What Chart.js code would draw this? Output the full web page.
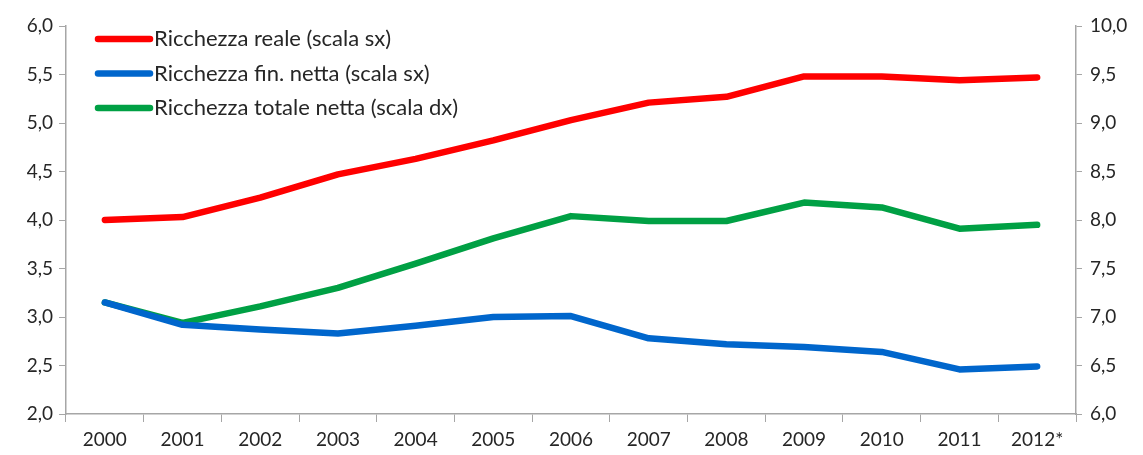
<!DOCTYPE html>
<html>
<head>
<meta charset="utf-8">
<script src="https://cdn.jsdelivr.net/npm/chart.js@4/dist/chart.umd.min.js"></script>
<style>
  html, body { margin: 0; padding: 0; background: #fff; }
  #wrap { width: 1143px; height: 455px; }
</style>
</head>
<body>
<div id="wrap"><canvas id="myChart"></canvas></div>
<script>
const years = ['2000', '2001', '2002', '2003', '2004', '2005', '2006', '2007', '2008', '2009', '2010', '2011', '2012*'];
const realeSx = [4.00, 4.03, 4.23, 4.47, 4.63, 4.82, 5.03, 5.21, 5.27, 5.48, 5.48, 5.44, 5.47];
const finNettaSx = [3.15, 2.92, 2.87, 2.83, 2.91, 3.00, 3.01, 2.78, 2.72, 2.69, 2.64, 2.46, 2.49];
const totaleNettaDx = [7.15, 6.94, 7.11, 7.30, 7.55, 7.81, 8.04, 7.99, 7.99, 8.18, 8.13, 7.91, 7.95];
const leftTicks = [2.0, 2.5, 3.0, 3.5, 4.0, 4.5, 5.0, 5.5, 6.0];
const rightTicks = [6.0, 6.5, 7.0, 7.5, 8.0, 8.5, 9.0, 9.5, 10.0];

const axisColor = '#a6a6a6';
const tickFont = { family: 'Lato, "Open Sans", sans-serif', size: 19 };
const fmt = v => v.toFixed(1).replace('.', ',');

// legend drawn inside the plot, top left
const insideLegend = {
  id: 'insideLegend',
  afterDraw(chart) {
    const c = chart.ctx;
    c.save();
    c.font = '22px Lato, "Open Sans", sans-serif';
    c.textBaseline = 'middle';
    chart.data.datasets.forEach((ds, i) => {
      const y = 39 + i * 34.5;
      c.strokeStyle = ds.borderColor;
      c.lineWidth = 6.5;
      c.lineCap = 'round';
      c.beginPath();
      c.moveTo(98, y);
      c.lineTo(150, y);
      c.stroke();
      c.fillStyle = '#262626';
      c.fillText(ds.label, 154, y);
    });
    c.restore();
  }
};

new Chart(document.getElementById('myChart'), {
  type: 'line',
  data: {
    labels: years,
    datasets: [
      { label: 'Ricchezza reale (scala sx)', data: realeSx, borderColor: '#ff0000', yAxisID: 'y' },
      { label: 'Ricchezza fin. netta (scala sx)', data: finNettaSx, borderColor: '#0066cc', yAxisID: 'y' },
      { label: 'Ricchezza totale netta (scala dx)', data: totaleNettaDx, borderColor: '#00a044', yAxisID: 'y2' }
    ]
  },
  options: {
    responsive: true,
    maintainAspectRatio: false,
    animation: false,
    layout: { padding: { top: 26, right: 0, left: 0, bottom: 0 } },
    elements: {
      line: { borderWidth: 6.5, tension: 0, borderCapStyle: 'round', borderJoinStyle: 'round' },
      point: { radius: 0 }
    },
    plugins: { legend: { display: false }, tooltip: { enabled: false } },
    scales: {
      x: {
        offset: true,
        grid: { offset: true, drawOnChartArea: false, drawTicks: true, tickLength: 8, color: axisColor },
        border: { color: axisColor, width: 1.5 },
        ticks: { font: tickFont, color: '#262626', padding: 6, maxRotation: 0 },
        afterFit(s) { s.height = 41; }
      },
      y: {
        position: 'left',
        min: 2, max: 6,
        afterBuildTicks(s) { s.ticks = leftTicks.map(v => ({ value: v })); },
        grid: { drawOnChartArea: false, tickLength: 7, color: axisColor },
        border: { color: axisColor, width: 1.5 },
        ticks: { font: tickFont, color: '#262626', padding: 6, callback: v => fmt(v) },
        afterFit(s) { s.width = 66; }
      },
      y2: {
        position: 'right',
        min: 6, max: 10,
        afterBuildTicks(s) { s.ticks = rightTicks.map(v => ({ value: v })); },
        grid: { drawOnChartArea: false, tickLength: 6, color: axisColor },
        border: { color: axisColor, width: 1.5 },
        ticks: { font: tickFont, color: '#262626', padding: 8, callback: v => fmt(v) },
        afterFit(s) { s.width = 67; }
      }
    }
  },
  plugins: [insideLegend]
});
</script>
</body>
</html>
